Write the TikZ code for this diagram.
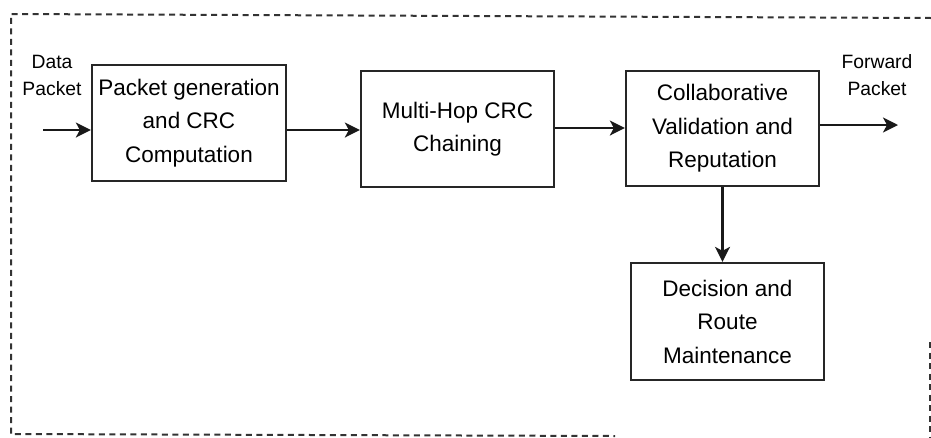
\documentclass[tikz,border=0pt]{standalone}
\usepackage{fontspec}
\setmainfont{Liberation Sans}
\usetikzlibrary{arrows.meta}
\begin{document}
\begin{tikzpicture}[x=1pt,y=-1pt,
  stagebox/.style={draw=black!85, line width=2.3pt, fill=white, inner sep=0pt,
    align=center, font=\fontsize{22.5}{33.5}\selectfont},
  flow/.style={line width=2.2pt, draw=black!90,
    -{Stealth[length=15pt,width=15pt,inset=4pt]}},
  portlabel/.style={align=center, font=\fontsize{19.3}{27}\selectfont},
  frame/.style={draw=black!80, line width=2pt, dash pattern=on 6pt off 4.5pt}]
\useasboundingbox (0,0) rectangle (931,437);

% dashed enclosure
\draw[frame] (931,18) -- (11,14) -- (11,434) -- (615,436);
\draw[frame] (930,342) -- (930,437);

% processing stages
\node[stagebox, minimum width=194pt, minimum height=116pt] (gen) at (189,123)
  {Packet generation\\and CRC\\Computation};
\node[stagebox, minimum width=193pt, minimum height=116pt] (chain) at (457.5,129)
  {Multi-Hop CRC\\Chaining};
\node[stagebox, minimum width=193pt, minimum height=115pt] (valid) at (722.5,128.5)
  {Collaborative\\Validation and\\Reputation};
\node[stagebox, minimum width=193pt, minimum height=117pt] (route) at (727.5,321.5)
  {Decision and\\Route\\Maintenance};

% input and output labels
\node[portlabel] (inlbl) at (52,75.5) {Data\\Packet};
\node[portlabel] (outlbl) at (877,75.5) {Forward\\Packet};
\coordinate (src) at (43,130);
\coordinate (dst) at (898,125);

% connectors
\draw[flow] (src) -- (src -| gen.west);
\draw[flow] (gen.east |- 0,130) -- (chain.west |- 0,130);
\draw[flow] (chain.east |- 0,128) -- (valid.west |- 0,128);
\draw[flow] (valid.east |- dst) -- (dst);
\draw[flow] (valid.south) -- (valid.south |- route.north);
\end{tikzpicture}
\end{document}
